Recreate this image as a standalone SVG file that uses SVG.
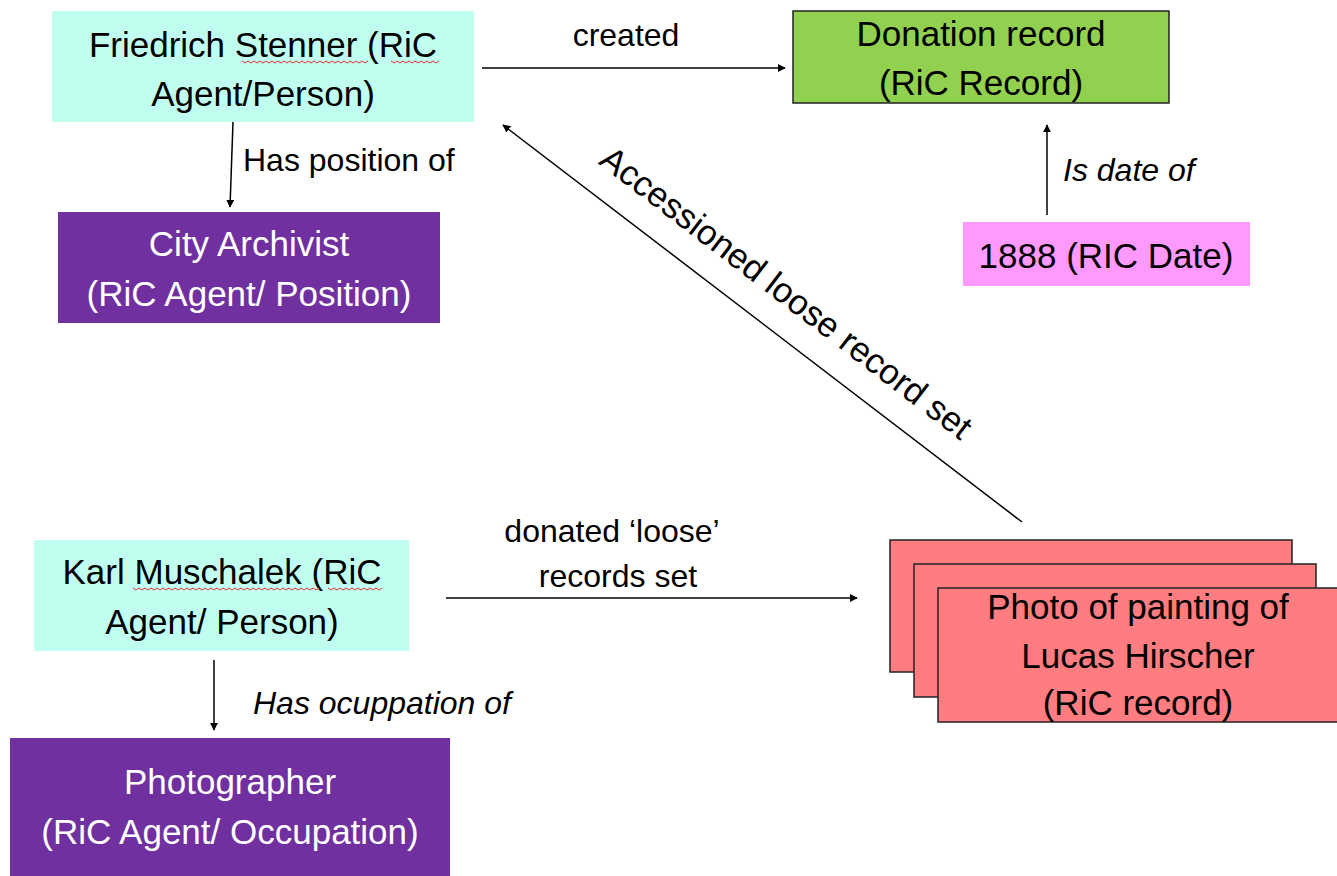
<svg xmlns="http://www.w3.org/2000/svg" width="1337" height="876" viewBox="0 0 1337 876">
<defs>
<marker id="ah" viewBox="0 0 10 10" refX="9" refY="5" markerWidth="8" markerHeight="8" markerUnits="userSpaceOnUse" orient="auto">
<path d="M0,0 L10,5 L0,10 z" fill="#000"/>
</marker>
<style>
text{font-family:"Liberation Sans",Arial,sans-serif;fill:#000;}
.t{font-size:35px;text-anchor:middle;}
.w{fill:#fff;}
.l{font-size:32px;}
.i{font-style:italic;}
.con{stroke:#000;stroke-width:1.5;fill:none;marker-end:url(#ah);}
.sq{stroke:#e03030;stroke-width:1;fill:none;}
.aqua{fill:#c0fff0;}
.purple{fill:#7030a0;}
.red{fill:#ff7c80;stroke:#222;stroke-width:1.5;}
</style>
</defs>
<rect width="1337" height="876" fill="#fff"/>

<g id="connectors">
<line class="con" x1="482" y1="68" x2="785" y2="68"/>
<text class="l" x="626" y="46" text-anchor="middle" font-size="35">created</text>
<line class="con" x1="1047" y1="215" x2="1047" y2="125"/>
<text class="l i" x="1063" y="181">Is date of</text>
<line class="con" x1="233" y1="122" x2="230" y2="207"/>
<text class="l" x="243" y="171">Has position of</text>
<line class="con" x1="1022" y1="522" x2="503" y2="125"/>
<text class="t" font-size="38" transform="translate(779,302) rotate(37.4)">Accessioned loose record set</text>
<line class="con" x1="446" y1="598" x2="857" y2="598"/>
<text class="l" x="612" y="542" text-anchor="middle">donated ‘loose’</text>
<text class="l" x="618" y="587" text-anchor="middle">records set</text>
<line class="con" x1="214" y1="660" x2="214" y2="730"/>
<text class="l i" x="253" y="714" font-size="33">Has ocuppation of</text>
</g>

<g id="friedrich">
<rect class="aqua" x="52" y="11" width="422" height="111"/>
<text class="t" x="263" y="57">Friedrich Stenner (RiC</text>
<text class="t" x="263" y="106">Agent/Person)</text>
<path class="sq" d="M242,61 l3,2 3,-2 3,2 3,-2 3,2 3,-2 3,2 3,-2 3,2 3,-2
 3,2 3,-2 3,2 3,-2 3,2 3,-2 3,2 3,-2 3,2 3,-2
 3,2 3,-2 3,2 3,-2 3,2 3,-2 3,2 3,-2 3,2 3,-2
 3,2 3,-2 3,2 3,-2 3,2 3,-2 3,2 3,-2 3,2 3,-2
 3,2 3,-2"/>
<path class="sq" d="M391,61 l3,2 3,-2 3,2 3,-2 3,2 3,-2 3,2 3,-2 3,2 3,-2
 3,2 3,-2 3,2 3,-2 3,2 3,-2"/>
</g>

<g id="donation">
<rect x="793" y="11" width="376" height="92" fill="#92d050" stroke="#222" stroke-width="1.5"/>
<text class="t" x="981" y="46">Donation record</text>
<text class="t" x="981" y="95">(RiC Record)</text>
</g>

<g id="date">
<rect x="963" y="222" width="287" height="64" fill="#ff99ff"/>
<text class="t" x="1106" y="268">1888 (RIC Date)</text>
</g>

<g id="archivist">
<rect class="purple" x="58" y="212" width="382" height="111"/>
<text class="t w" x="249" y="256">City Archivist</text>
<text class="t w" x="249" y="306">(RiC Agent/ Position)</text>
</g>

<g id="karl">
<rect class="aqua" x="34" y="540" width="375" height="111"/>
<text class="t" x="222" y="584">Karl Muschalek (RiC</text>
<text class="t" x="222" y="634">Agent/ Person)</text>
<path class="sq" d="M133,588 l3,2 3,-2 3,2 3,-2 3,2 3,-2 3,2 3,-2 3,2 3,-2
 3,2 3,-2 3,2 3,-2 3,2 3,-2 3,2 3,-2 3,2 3,-2
 3,2 3,-2 3,2 3,-2 3,2 3,-2 3,2 3,-2 3,2 3,-2
 3,2 3,-2 3,2 3,-2 3,2 3,-2 3,2 3,-2 3,2 3,-2
 3,2 3,-2 3,2 3,-2 3,2 3,-2 3,2 3,-2 3,2 3,-2
 3,2 3,-2 3,2 3,-2 3,2 3,-2 3,2 3,-2 3,2 3,-2
 3,2 3,-2"/>
<path class="sq" d="M328,588 l3,2 3,-2 3,2 3,-2 3,2 3,-2 3,2 3,-2 3,2 3,-2
 3,2 3,-2 3,2 3,-2 3,2 3,-2 3,2 3,-2"/>
</g>

<g id="records">
<rect class="red" x="890" y="540" width="402" height="132"/>
<rect class="red" x="914" y="564" width="402" height="133"/>
<rect class="red" x="938" y="588" width="402" height="134"/>
<text class="t" x="1138" y="619">Photo of painting of</text>
<text class="t" x="1138" y="668">Lucas Hirscher</text>
<text class="t" x="1138" y="715">(RiC record)</text>
</g>

<g id="photographer">
<rect class="purple" x="10" y="738" width="440" height="138"/>
<text class="t w" x="230" y="794">Photographer</text>
<text class="t w" x="230" y="844">(RiC Agent/ Occupation)</text>
</g>
</svg>
